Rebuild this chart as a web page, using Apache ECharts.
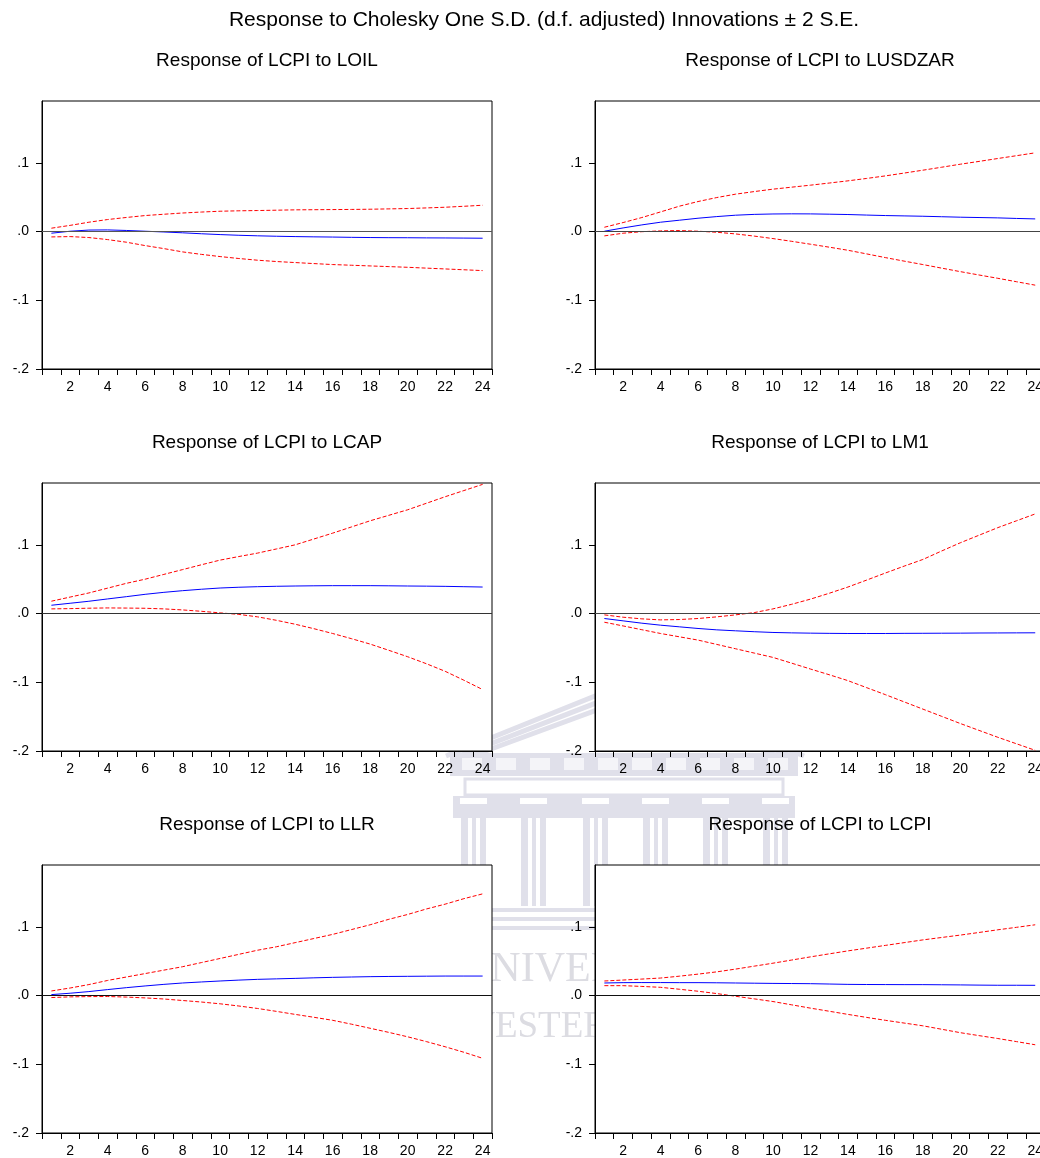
<!DOCTYPE html>
<html><head><meta charset="utf-8">
<script src="https://cdn.jsdelivr.net/npm/echarts@6/dist/echarts.min.js"></script>
<style>html,body{margin:0;padding:0;background:#fff;overflow:hidden;width:1040px;height:1158px}#c{width:1046px;height:1158px}</style>
</head><body><div id="c"></div><script>
const periods = ['1','2','3','4','5','6','7','8','9','10','11','12','13','14','15','16','17','18','19','20','21','22','23','24'];
const yTickValues = [-0.2, -0.1, 0, 0.1];
const mainTitle = 'Response to Cholesky One S.D. (d.f. adjusted) Innovations \u00b1 2 S.E.';
const panelTitles = ['Response of LCPI to LOIL','Response of LCPI to LUSDZAR','Response of LCPI to LCAP','Response of LCPI to LM1','Response of LCPI to LLR','Response of LCPI to LCPI'];
const watermarkLines = ['UNIVERSITY', 'WESTERN CAPE'];

const respLOIL  = [-0.0024,0.0005,0.0022,0.0024,0.0016,0.0005,-0.0006,-0.0018,-0.0032,-0.0044,-0.0054,-0.0062,-0.0068,-0.0073,-0.0077,-0.0080,-0.0084,-0.0087,-0.0089,-0.0090,-0.0092,-0.0093,-0.0095,-0.0097];
const upperLOIL = [0.0049,0.0090,0.0136,0.0175,0.0205,0.0233,0.0252,0.0270,0.0284,0.0296,0.0302,0.0306,0.0311,0.0316,0.0318,0.0320,0.0322,0.0325,0.0330,0.0335,0.0344,0.0354,0.0368,0.0383];
const lowerLOIL = [-0.0078,-0.0073,-0.0087,-0.0117,-0.0155,-0.0204,-0.0248,-0.0296,-0.0332,-0.0364,-0.0392,-0.0417,-0.0436,-0.0451,-0.0466,-0.0480,-0.0490,-0.0500,-0.0510,-0.0520,-0.0532,-0.0544,-0.0556,-0.0568];

const respUSD  = [0.0005,0.0053,0.0097,0.0136,0.0165,0.0194,0.0218,0.0238,0.0250,0.0256,0.0258,0.0257,0.0253,0.0248,0.0240,0.0233,0.0228,0.0223,0.0216,0.0209,0.0204,0.0199,0.0191,0.0184];
const upperUSD = [0.0063,0.0131,0.0204,0.0286,0.0369,0.0437,0.0495,0.0544,0.0582,0.0617,0.0646,0.0675,0.0706,0.0738,0.0773,0.0810,0.0851,0.0893,0.0936,0.0980,0.1021,0.1063,0.1104,0.1146];
const lowerUSD = [-0.0063,-0.0024,-0.0002,0.0010,0.0015,0.0005,-0.0010,-0.0034,-0.0066,-0.0102,-0.0142,-0.0184,-0.0227,-0.0272,-0.0325,-0.0379,-0.0430,-0.0480,-0.0532,-0.0583,-0.0632,-0.0680,-0.0730,-0.0780];

const respCAP  = [0.0121,0.0150,0.0179,0.0213,0.0246,0.0280,0.0309,0.0333,0.0354,0.0372,0.0383,0.0391,0.0397,0.0401,0.0404,0.0406,0.0406,0.0406,0.0404,0.0401,0.0399,0.0396,0.0391,0.0386];
const upperCAP = [0.0180,0.0240,0.0300,0.0370,0.0440,0.0500,0.0570,0.0640,0.0710,0.0778,0.0830,0.0880,0.0940,0.1000,0.1085,0.1170,0.1260,0.1350,0.1430,0.1510,0.1605,0.1700,0.1790,0.1880];
const lowerCAP = [0.0068,0.0072,0.0078,0.0082,0.0080,0.0077,0.0068,0.0053,0.0033,0.0010,-0.0012,-0.0048,-0.0098,-0.0155,-0.0220,-0.0290,-0.0365,-0.0444,-0.0535,-0.0628,-0.0730,-0.0840,-0.0970,-0.1106];

const respM1  = [-0.0072,-0.0106,-0.0140,-0.0169,-0.0193,-0.0217,-0.0237,-0.0251,-0.0264,-0.0275,-0.0281,-0.0285,-0.0288,-0.0290,-0.0290,-0.0290,-0.0288,-0.0287,-0.0286,-0.0285,-0.0283,-0.0282,-0.0281,-0.0280];
const upperM1 = [-0.0019,-0.0053,-0.0077,-0.0092,-0.0087,-0.0072,-0.0048,-0.0019,0.0014,0.0068,0.0135,0.0210,0.0295,0.0386,0.0487,0.0590,0.0690,0.0787,0.0910,0.1030,0.1140,0.1250,0.1350,0.1450];
const lowerM1 = [-0.0126,-0.0180,-0.0235,-0.0290,-0.0338,-0.0386,-0.0449,-0.0512,-0.0575,-0.0638,-0.0722,-0.0807,-0.0890,-0.0976,-0.1078,-0.1180,-0.1285,-0.1390,-0.1495,-0.1600,-0.1700,-0.1800,-0.1895,-0.1990];

const respLR  = [0.0014,0.0034,0.0058,0.0087,0.0115,0.0140,0.0163,0.0183,0.0198,0.0212,0.0225,0.0236,0.0243,0.0250,0.0258,0.0265,0.0270,0.0275,0.0278,0.0280,0.0282,0.0284,0.0284,0.0284];
const upperLR = [0.0067,0.0110,0.0160,0.0220,0.0270,0.0320,0.0370,0.0420,0.0480,0.0540,0.0600,0.0660,0.0710,0.0770,0.0830,0.0890,0.0960,0.1030,0.1110,0.1180,0.1260,0.1330,0.1410,0.1480];
const lowerLR = [-0.0029,-0.0019,-0.0015,-0.0014,-0.0022,-0.0034,-0.0050,-0.0072,-0.0094,-0.0120,-0.0152,-0.0188,-0.0230,-0.0274,-0.0316,-0.0360,-0.0416,-0.0476,-0.0536,-0.0600,-0.0670,-0.0745,-0.0825,-0.0913];

const respCPI  = [0.0183,0.0188,0.0189,0.0189,0.0188,0.0188,0.0186,0.0183,0.0180,0.0177,0.0175,0.0173,0.0168,0.0163,0.0161,0.0160,0.0159,0.0159,0.0157,0.0155,0.0152,0.0150,0.0150,0.0149];
const upperCPI = [0.0212,0.0226,0.0240,0.0255,0.0282,0.0312,0.0345,0.0385,0.0428,0.0471,0.0517,0.0563,0.0607,0.0650,0.0690,0.0730,0.0770,0.0810,0.0845,0.0880,0.0918,0.0957,0.0993,0.1030];
const lowerCPI = [0.0144,0.0144,0.0133,0.0120,0.0092,0.0063,0.0029,-0.0010,-0.0048,-0.0087,-0.0135,-0.0183,-0.0228,-0.0274,-0.0318,-0.0360,-0.0400,-0.0440,-0.0490,-0.0540,-0.0583,-0.0625,-0.0670,-0.0716];

const panels = [
  {mid: respLOIL, up: upperLOIL, lo: lowerLOIL, zero: '#555'},
  {mid: respUSD, up: upperUSD, lo: lowerUSD, zero: '#444'},
  {mid: respCAP, up: upperCAP, lo: lowerCAP, zero: '#333'},
  {mid: respM1, up: upperM1, lo: lowerM1, zero: '#444'},
  {mid: respLR, up: upperLR, lo: lowerLR, zero: '#111'},
  {mid: respCPI, up: upperCPI, lo: lowerCPI, zero: '#111'}
];

const FONT = '"Liberation Sans", Arial, sans-serif';
const lefts = [42, 595];
const tops = [101, 483, 865];
const titleYs = [61, 443, 825];
const PW = 450, PH = 268;

const grids = [], xAxes = [], yAxes = [], series = [], graphics = [];
panels.forEach((p, i) => {
  const col = i % 2, row = Math.floor(i / 2);
  grids.push({left: lefts[col], top: tops[row], width: PW, height: PH, show: true,
    borderColor: '#000', borderWidth: 1, backgroundColor: '#fff', containLabel: false});
  xAxes.push({type: 'category', gridIndex: i, data: periods, boundaryGap: true,
    axisLine: {show: true, onZero: false, lineStyle: {color: '#000', width: 1}},
    axisTick: {show: true, interval: 0, length: 6, inside: false, lineStyle: {color: '#000'}},
    axisLabel: {interval: function (idx) { return idx % 2 === 1; }, color: '#000', fontSize: 14, fontFamily: FONT, margin: 11},
    splitLine: {show: false}});
  yAxes.push({type: 'value', gridIndex: i, min: -0.2, max: 0.19, interval: 0.1,
    axisLine: {show: true, lineStyle: {color: '#000', width: 1}},
    axisTick: {show: true, length: 6, lineStyle: {color: '#000'}, customValues: yTickValues},
    axisLabel: {customValues: yTickValues, color: '#000', fontSize: 14, fontFamily: FONT, margin: 13,
      padding: [0, 0, 6, 0],
      formatter: function (v) { return v.toFixed(1).replace('0.', '.'); }},
    splitLine: {show: false}});
  series.push({type: 'line', xAxisIndex: i, yAxisIndex: i, data: p.up, symbol: 'none',
    lineStyle: {color: '#ff0000', width: 1, type: [4, 2]}, z: 3});
  series.push({type: 'line', xAxisIndex: i, yAxisIndex: i, data: p.lo, symbol: 'none',
    lineStyle: {color: '#ff0000', width: 1, type: [4, 2]}, z: 3});
  series.push({type: 'line', xAxisIndex: i, yAxisIndex: i, data: p.mid, symbol: 'none',
    lineStyle: {color: '#0000ff', width: 1}, z: 4,
    markLine: {silent: true, symbol: 'none', label: {show: false},
      lineStyle: {color: p.zero, width: 1, type: 'solid'}, data: [{yAxis: 0}], animation: false}});
  graphics.push({type: 'text', x: lefts[col] + PW / 2, y: titleYs[row], z: 10,
    style: {text: panelTitles[i], fontSize: 19, fontFamily: FONT, fill: '#000', textAlign: 'center', textVerticalAlign: 'middle'}});
});
graphics.push({type: 'text', x: 544, y: 20, z: 10,
  style: {text: mainTitle, fontSize: 21, fontFamily: FONT, fill: '#000', textAlign: 'center', textVerticalAlign: 'middle'}});

// faint background watermark (building + text), behind the plots
const WM = '#e0e0ea';
const wm = [];
[0, 13, 26].forEach(d => {
  wm.push({type: 'polyline', shape: {points: [[446 + d, 756], [625, 684 + d * 0.6], [804 - d, 756]]}, style: {stroke: WM, lineWidth: 5, fill: null}});
});
wm.push({type: 'rect', shape: {x: 450, y: 753, width: 348, height: 23}, style: {fill: WM}});
for (let x = 462; x < 790; x += 34) {
  wm.push({type: 'rect', shape: {x: x, y: 758, width: 20, height: 12}, style: {fill: '#f4f4f8'}});
}
wm.push({type: 'rect', shape: {x: 465, y: 779, width: 318, height: 16}, style: {fill: '#fff', stroke: WM, lineWidth: 3}});
wm.push({type: 'rect', shape: {x: 453, y: 796, width: 342, height: 22}, style: {fill: WM}});
[460, 520, 582, 642, 702, 762].forEach(x => {
  wm.push({type: 'rect', shape: {x: x, y: 798, width: 27, height: 6}, style: {fill: '#fff'}});
  wm.push({type: 'rect', shape: {x: x + 1, y: 818, width: 25, height: 88}, style: {fill: WM}});
  wm.push({type: 'rect', shape: {x: x + 8, y: 818, width: 4, height: 88}, style: {fill: '#fff'}});
  wm.push({type: 'rect', shape: {x: x + 16, y: 818, width: 4, height: 88}, style: {fill: '#fff'}});
});
[908, 917, 926].forEach(y => {
  wm.push({type: 'rect', shape: {x: 440, y: y, width: 370, height: 4}, style: {fill: WM}});
});
wm.push({type: 'text', x: 460, y: 991, style: {text: watermarkLines[0], fontSize: 42, fontFamily: '"Liberation Serif", serif', fill: '#dcdce2', textAlign: 'left', textVerticalAlign: 'bottom'}});
wm.push({type: 'text', x: 460, y: 1046, style: {text: watermarkLines[1], fontSize: 37, fontFamily: '"Liberation Serif", serif', fill: '#dcdce2', textAlign: 'left', textVerticalAlign: 'bottom'}});
wm.forEach(e => { e.z = -10; e.silent = true; graphics.push(e); });

const chart = echarts.init(document.getElementById('c'), null, {renderer: 'canvas'});
chart.setOption({
  animation: false,
  backgroundColor: '#fff',
  grid: grids, xAxis: xAxes, yAxis: yAxes, series: series,
  graphic: graphics
});
</script></body></html>
